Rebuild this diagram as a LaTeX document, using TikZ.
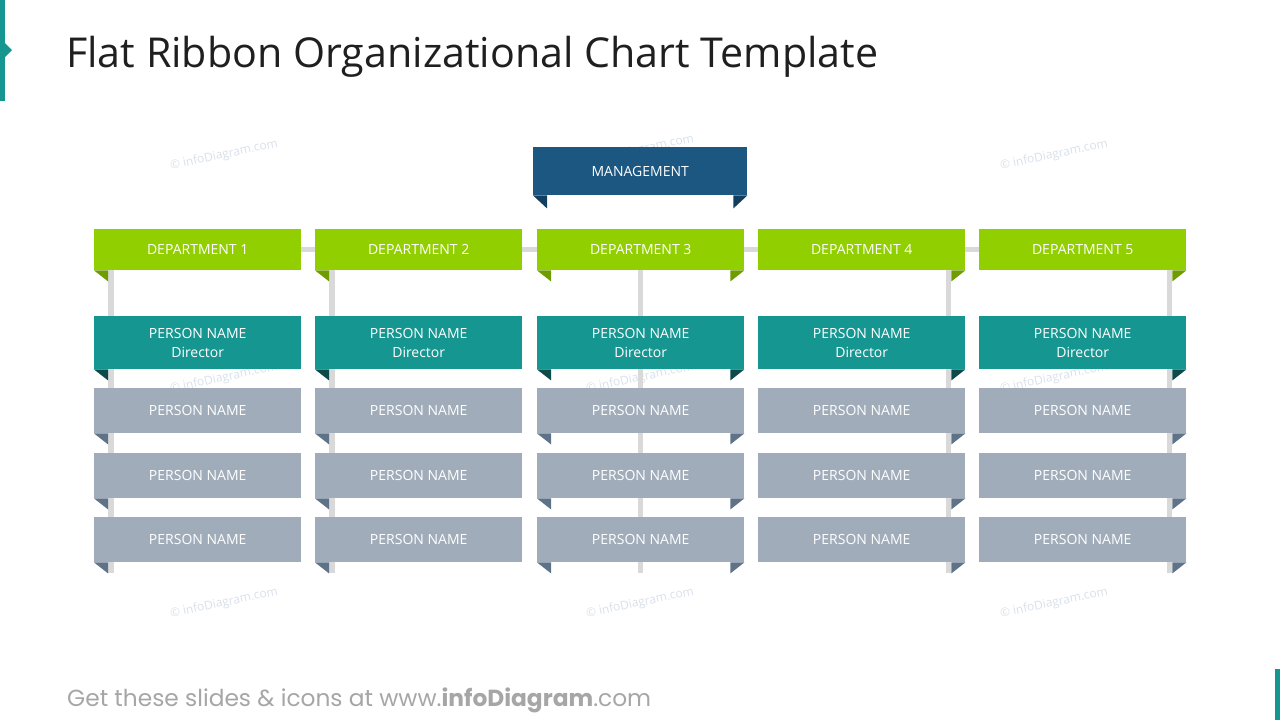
\documentclass[tikz,border=0pt]{standalone}
\usepackage{fontspec}
\setmainfont{Open Sans}
\newfontfamily\footfont{Poppins}
\definecolor{mgmtblue}{HTML}{1C5782}
\definecolor{mgmtfold}{HTML}{123E5F}
\definecolor{deptgreen}{HTML}{92CF00}
\definecolor{deptfold}{HTML}{6F9C00}
\definecolor{dirteal}{HTML}{169690}
\definecolor{dirfold}{HTML}{0E4A49}
\definecolor{persgrey}{HTML}{A0ACB9}
\definecolor{persfold}{HTML}{5F7388}
\definecolor{linkgrey}{HTML}{D9D9D9}
\definecolor{markgrey}{HTML}{D8E0EA}
\pgfdeclarelayer{bg}
\pgfsetlayers{bg,main}
\tikzset{
  ribbon/.style={anchor=north west,inner sep=0pt,minimum width=207pt,
    text=white,align=center,font=\fontsize{14}{19}\selectfont},
  mgmtbox/.style={ribbon,fill=mgmtblue,minimum width=214pt,minimum height=48pt},
  deptbox/.style={ribbon,fill=deptgreen,minimum height=41pt},
  dirbox/.style={ribbon,fill=dirteal,minimum height=53pt},
  persbox/.style={ribbon,fill=persgrey,minimum height=45pt},
  link/.style={draw=linkgrey,line width=5.5pt},
  wmark/.style={text=markgrey,rotate=12,font=\fontsize{12}{14}\selectfont}
}

\begin{document}
\begin{tikzpicture}[x=1pt,y=-1pt]
  \useasboundingbox (0,0) rectangle (1280,720);
  % side accents
  \fill[dirteal] (0,0) rectangle (5,101);
  \fill[dirteal] (5,43) -- (12,50) -- (5,57) -- cycle;
  \fill[dirteal] (1275,669) rectangle (1280,720);
  \node[anchor=base west,inner sep=0pt,text=black!88,
    font=\fontsize{41.2}{48}\selectfont] (title) at (66,67.5)
    {Flat Ribbon Organizational Chart Template};
  \node[anchor=base west,inner sep=0pt,text=black!35,
    font=\footfont\fontsize{23.3}{28}\selectfont] (foot) at (67,706.5)
    {Get these slides \& icons at www.\textbf{infoDiagram}.com};

  \node[mgmtbox] (mgmt) at (533,147) {MANAGEMENT};
  \fill[mgmtfold] (mgmt.south west) -- ++(14,0) -- ++(0,13) -- cycle;
  \fill[mgmtfold] (mgmt.south east) -- ++(-14,0) -- ++(0,13) -- cycle;

  \foreach \i/\x in {1/94,2/315,3/537,4/758,5/979}
  {
    \node[deptbox] (d\i) at (\x,229) {DEPARTMENT \i};
    \node[dirbox] (p\i0) at (\x,316) {PERSON NAME\\Director};
    \foreach \j/\y in {1/388,2/453,3/517}
      \node[persbox] (p\i\j) at (\x,\y) {PERSON NAME};
  }
  % ribbon folds
  \foreach \i in {1,2,3}
  {
    \fill[deptfold] (d\i.south west) -- ++(14,0) -- ++(0,11) -- cycle;
    \fill[dirfold] (p\i0.south west) -- ++(14,0) -- ++(0,11) -- cycle;
    \foreach \j in {1,2,3}
      \fill[persfold] (p\i\j.south west) -- ++(14,0) -- ++(0,11) -- cycle;
  }
  \foreach \i in {3,4,5}
  {
    \fill[deptfold] (d\i.south east) -- ++(-14,0) -- ++(0,11) -- cycle;
    \fill[dirfold] (p\i0.south east) -- ++(-14,0) -- ++(0,11) -- cycle;
    \foreach \j in {1,2,3}
      \fill[persfold] (p\i\j.south east) -- ++(-14,0) -- ++(0,11) -- cycle;
  }

  \begin{pgfonlayer}{bg}
    \foreach \x/\y in {224/155,640/150,1054/155,224/378,640/378,1054/378,224/603,640/603,1054/603}
      \node[wmark] (wm-\x-\y) at (\x,\y) {© infoDiagram.com};
    \draw[link,line width=5pt] (d1.center) -- (d5.center);
    \foreach \i in {1,2}
      \draw[link] ([xshift=17pt]d\i.west) -- ([xshift=17pt,yshift=-11pt]p\i3.south west);
    \draw[link] (d3.center) -- ([yshift=-11pt]p33.south);
    \foreach \i in {4,5}
      \draw[link] ([xshift=-17pt]d\i.east) -- ([xshift=-17pt,yshift=-11pt]p\i3.south east);
  \end{pgfonlayer}
\end{tikzpicture}
\end{document}
